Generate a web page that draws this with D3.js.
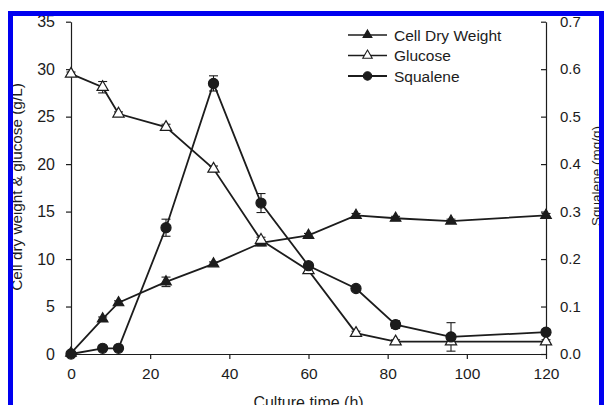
<!DOCTYPE html>
<html>
<head>
<meta charset="utf-8">
<script src="https://cdn.jsdelivr.net/npm/d3@7"></script>
<style>
  body { margin: 0; background: #fff; }
  svg { display: block; font-family: "Liberation Sans", Arial, sans-serif; }
</style>
</head>
<body>
<div id="chart"></div>
<script>
// data
var time = [0, 8, 12, 24, 36, 48, 60, 72, 82, 96, 120];
var cdw = [0.1, 3.7, 5.4, 7.6, 9.5, 11.7, 12.5, 14.6, 14.3, 14.0, 14.6];
var cdwErr = [0.1, 0.2, 0.2, 0.5, 0.2, 0.3, 0.2, 0.2, 0.2, 0.2, 0.2];
var glucose = [29.5, 28.1, 25.3, 23.9, 19.5, 12.0, 8.8, 2.2, 1.3, 1.3, 1.3];
var glucoseErr = [0.2, 0.6, 0.2, 0.3, 0.3, 0.3, 0.3, 0.2, 0.2, 0.2, 0.2];
var squalene = [0.0, 0.012, 0.012, 0.266, 0.570, 0.318, 0.186, 0.138, 0.062, 0.036, 0.046];
var squaleneErr = [0.002, 0.002, 0.002, 0.018, 0.016, 0.02, 0.006, 0.004, 0.008, 0.03, 0.006];

var xTicks = [0, 20, 40, 60, 80, 100, 120];
var yLeftTicks = [0, 5, 10, 15, 20, 25, 30, 35];
var yRightTicks = [0, 0.1, 0.2, 0.3, 0.4, 0.5, 0.6, 0.7];
var legendNames = ["Cell Dry Weight", "Glucose", "Squalene"];

var width = 604, height = 405;
var margin = {top: 21.7, right: 58, bottom: 51, left: 71};

var svg = d3.select("#chart")
  .append("svg")
    .attr("width", width)
    .attr("height", height);

var x = d3.scaleLinear()
  .domain([0, 120])
  .range([margin.left, width - margin.right]);

var yL = d3.scaleLinear()
  .domain([0, 35])
  .range([height - margin.bottom, margin.top]);

var yR = d3.scaleLinear()
  .domain([0, 0.7])
  .range([height - margin.bottom, margin.top]);

var ink = "#1c1c1c";

// axes
var gx = svg.append("g")
  .attr("transform", "translate(0," + (height - margin.bottom) + ")")
  .call(d3.axisBottom(x).tickValues(xTicks).tickSize(5).tickPadding(9).tickSizeOuter(0));

var gyl = svg.append("g")
  .attr("transform", "translate(" + margin.left + ",0)")
  .call(d3.axisLeft(yL).tickValues(yLeftTicks).tickSize(5).tickPadding(11).tickSizeOuter(0));

var gyr = svg.append("g")
  .attr("transform", "translate(" + (width - margin.right) + ",0)")
  .call(d3.axisRight(yR).tickValues(yRightTicks).tickFormat(d3.format(".1f"))
    .tickSize(-5).tickPadding(14).tickSizeOuter(0));

[gx, gyl, gyr].forEach(function (g) {
  g.selectAll("path.domain").attr("stroke", ink).attr("stroke-width", 1.2);
  g.selectAll(".tick line").attr("stroke", ink).attr("stroke-width", 1.2);
  g.selectAll(".tick text")
    .attr("fill", ink)
    .style("font-family", "'Liberation Sans', Arial, sans-serif");
});
gx.selectAll(".tick text").style("font-size", "15.5px");
gyl.selectAll(".tick text").style("font-size", "16px");
gyr.selectAll(".tick text").style("font-size", "15px");

// axis titles
svg.append("text")
  .attr("transform", "translate(22,187) rotate(-90)")
  .attr("text-anchor", "middle")
  .attr("fill", ink)
  .style("font-size", "15.3px")
  .text("Cell dry weight & glucose (g/L)");

svg.append("text")
  .attr("transform", "translate(601,176) rotate(-90)")
  .attr("text-anchor", "middle")
  .attr("fill", ink)
  .style("font-size", "13.5px")
  .text("Squalene (mg/g)");

svg.append("text")
  .attr("x", (x(0) + x(120)) / 2)
  .attr("y", 408)
  .attr("text-anchor", "middle")
  .attr("fill", ink)
  .style("font-size", "16px")
  .text("Culture time (h)");

// series
var series = [
  {name: legendNames[0], vals: cdw, err: cdwErr, y: yL, sym: d3.symbolTriangle, size: 48, fill: ink},
  {name: legendNames[1], vals: glucose, err: glucoseErr, y: yL, sym: d3.symbolTriangle, size: 55, fill: "#fff"},
  {name: legendNames[2], vals: squalene, err: squaleneErr, y: yR, sym: d3.symbolCircle, size: 80, fill: ink}
];

series.forEach(function (s) {
  var pts = time.map(function (t, i) { return {t: t, v: s.vals[i], e: s.err[i]}; });

  svg.append("path")
    .datum(pts)
    .attr("fill", "none")
    .attr("stroke", ink)
    .attr("stroke-width", 1.8)
    .attr("d", d3.line()
      .x(function (d) { return x(d.t); })
      .y(function (d) { return s.y(d.v); }));

  var eb = svg.append("g").selectAll("g")
    .data(pts)
    .enter()
    .append("g")
      .attr("stroke", ink)
      .attr("stroke-width", 1.1);
  eb.append("line")
    .attr("x1", function (d) { return x(d.t); })
    .attr("x2", function (d) { return x(d.t); })
    .attr("y1", function (d) { return s.y(d.v - d.e); })
    .attr("y2", function (d) { return s.y(d.v + d.e); });
  eb.append("line")
    .attr("x1", function (d) { return x(d.t) - 4.5; })
    .attr("x2", function (d) { return x(d.t) + 4.5; })
    .attr("y1", function (d) { return s.y(d.v + d.e); })
    .attr("y2", function (d) { return s.y(d.v + d.e); });
  eb.append("line")
    .attr("x1", function (d) { return x(d.t) - 4.5; })
    .attr("x2", function (d) { return x(d.t) + 4.5; })
    .attr("y1", function (d) { return s.y(d.v - d.e); })
    .attr("y2", function (d) { return s.y(d.v - d.e); });

  s.pts = pts;
});

series.forEach(function (s) {
  svg.append("g").selectAll("path")
    .data(s.pts)
    .enter()
    .append("path")
      .attr("transform", function (d) { return "translate(" + x(d.t) + "," + s.y(d.v) + ")"; })
      .attr("d", d3.symbol().type(s.sym).size(s.size))
      .attr("fill", s.fill)
      .attr("stroke", ink)
      .attr("stroke-width", 1.2);
});

// legend
var legend = svg.append("g");
series.forEach(function (s, i) {
  var ly = 35 + i * 20.5;
  legend.append("line")
    .attr("x1", 348).attr("x2", 387)
    .attr("y1", ly).attr("y2", ly)
    .attr("stroke", ink)
    .attr("stroke-width", i == 2 ? 2 : 1.5);
  legend.append("path")
    .attr("transform", "translate(367.5," + ly + ")")
    .attr("d", d3.symbol().type(s.sym).size(s.size * 0.7))
    .attr("fill", s.fill)
    .attr("stroke", ink)
    .attr("stroke-width", 1.1);
  legend.append("text")
    .attr("x", 394)
    .attr("y", ly + 5.5)
    .attr("fill", ink)
    .style("font-size", "15.5px")
    .text(s.name);
});

// blue frame of the scanned figure
var blue = "#0000f0";
svg.append("rect").attr("x", 8).attr("y", 11).attr("width", 596).attr("height", 5).attr("fill", blue);
svg.append("rect").attr("x", 8).attr("y", 11).attr("width", 5).attr("height", 394).attr("fill", blue);
svg.append("rect").attr("x", 599).attr("y", 11).attr("width", 5).attr("height", 394).attr("fill", blue);
</script>
</body>
</html>
